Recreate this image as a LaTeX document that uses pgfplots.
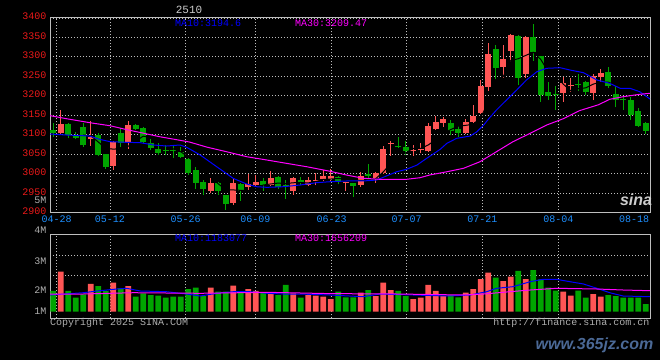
\documentclass[border=0pt]{standalone}
\usepackage{fontspec}
\setmainfont{Liberation Mono}
\newfontfamily\wmfont{Liberation Sans}
\usepackage{pgfplots}
\pgfplotsset{compat=1.18}
\usepackage{pgfplotstable}
\definecolor{cred}{RGB}{255,85,85}
\definecolor{cgreen}{RGB}{0,165,0}
\definecolor{grd}{RGB}{190,190,190}
\definecolor{lbl}{RGB}{235,25,25}
\definecolor{dateblue}{RGB}{30,144,255}
\definecolor{txtgray}{RGB}{175,175,175}
\definecolor{ma10}{RGB}{0,0,255}
\definecolor{ma30}{RGB}{255,0,255}
\definecolor{wmblue}{RGB}{75,105,150}
\newcommand\fsz{\fontsize{10bp}{12bp}\selectfont}

\pgfplotstableread{
x o h l c
1 3103.5 3163.5 3099 3127.5
5 3088 3135 3072 3094
8 3020 3084.5 3010 3082
10 3082 3134 3063 3125
21 2955 2988 2951 2977
24 2925 2986 2919 2975
26 2966 2998 2958 2973
27 2971 2996 2967 2979
29 2971 3007 2969 2989
32 2956 2992 2945 2989
34 2971 2992 2967 2983
35 2981 3001 2970 2983
36 2985 3009 2980 2995
37 2985 3011 2980 2994
39 2975 2979 2956 2976
41 2971 3005 2966 2993
43 2988 3003 2977 3002
44 3001 3071 2999 3062
45 3077 3085 3046 3078
48 3058 3074 3046 3060
49 3060 3078 3052 3061
50 3057 3130 3055 3122
51 3114 3148 3113 3133
52 3131 3145 3121 3140
55 3104 3140 3102 3133
56 3133 3176 3131 3148
57 3157 3241 3153 3225
58 3222 3337 3213 3307
60 3275 3331 3247 3294
61 3316 3359 3288 3356
63 3256 3354 3247 3350
68 3208 3249 3185 3233
69 3224 3245 3210 3226
72 3208 3256 3189 3251
73 3249 3268 3236 3259
}\redtab

\pgfplotstableread{
x o h l c
0 3112 3129 3094 3103.5
2 3127.5 3131 3091 3099
3 3099 3108 3088 3092.5
4 3119 3131 3069 3073.5
6 3099 3104 3045 3048
7 3050 3051 3013 3017
9 3105 3116 3068 3079
11 3126 3128 3113 3115
12 3117 3120 3078 3080
13 3078 3088 3060 3067
14 3063 3078 3048 3054
15 3060 3073 3048 3058
16 3061 3073 3041 3059
17 3056 3069 3041 3043
18 3037 3039 2996 3001
19 3009 3016 2960 2976
20 2979 2983 2945 2960
22 2977 2978 2945 2956
23 2945 2946 2907 2922
25 2973 2975 2930 2955
28 2981 2988 2955 2971
30 2992 2993 2960 2966
31 2969 2984 2935 2967
33 2983 2992 2970 2975
38 2992 2995 2972 2982
40 2975 2977 2940 2969
42 2998 3025 2985 2995
46 3070 3095 3066 3068
47 3069 3084 3048 3057
53 3131 3138 3099 3110
54 3114 3123 3095 3104
59 3320 3331 3242 3272
62 3354 3356 3228 3247
64 3350 3385 3290 3313
65 3302 3303 3185 3202
66 3209 3235 3189 3200
67 3204 3225 3163 3203
70 3231 3256 3212 3229
71 3236 3238 3202 3211
74 3262 3275 3219 3226
75 3204 3226 3170 3189
76 3190 3200 3163 3188
77 3189 3198 3138 3151
78 3161 3168 3120 3122
79 3131 3132 3103 3110
}\greentab

\pgfplotstableread{
x v
1 3.138
5 2.169
8 2.271
10 2.011
21 1.877
24 2.034
26 1.774
27 1.617
29 1.380
32 1.435
34 1.301
35 1.246
36 1.167
37 0.986
41 1.482
43 1.222
44 2.271
45 1.695
48 0.986
49 1.088
50 2.090
51 1.617
52 1.222
55 1.482
56 1.774
57 2.563
58 3.060
60 2.405
61 2.744
63 2.563
68 1.561
69 1.246
72 1.380
73 1.167
}\volred

\pgfplotstableread{
x v
0 1.617
2 1.617
3 1.088
4 1.356
6 2.011
7 1.617
9 1.829
11 1.167
12 1.435
13 1.301
14 1.246
15 1.088
16 1.167
17 1.167
18 1.774
19 1.877
20 1.222
22 1.561
23 1.561
25 1.561
28 1.482
30 1.301
31 2.090
33 1.088
38 1.561
39 1.120
40 1.120
42 1.695
46 1.617
47 1.222
53 1.301
54 1.120
59 2.665
62 3.194
64 3.272
65 2.539
66 1.877
67 1.640
70 1.640
71 1.088
74 1.301
75 1.222
76 1.088
77 1.088
78 1.088
79 0.591
}\volgreen

\pgfplotsset{
  chartbase/.style={
    scale only axis, width=600bp,
    xmin=-0.427, xmax=79.573,
    axis line style={draw=grd, line width=1bp},
    tick style={draw=none},
    major tick length=0pt,
    grid=major,
    major grid style={draw=grd, line width=0.8bp, dash pattern=on 1bp off 2bp},
    xtick={0.47,7.57,17.67,26.95,37.13,47.13,57.21,67.35},
  },
  wick/.style={draw=none, mark=none, forget plot,
    error bars/.cd, y dir=plus, y explicit, error mark=none,
    error bar style={draw=#1, line width=1bp}},
  body/.style={draw=none, mark=none, forget plot,
    error bars/.cd, y dir=plus, y explicit, error mark=none,
    error bar style={draw=#1, line width=5.6bp}},
}

\begin{document}
\begin{tikzpicture}[x=1bp,y=1bp]
\path[use as bounding box, fill=black] (0,0) rectangle (660,360);

% ---------- price panel ----------
\begin{axis}[
  chartbase,
  at={(50bp,147.5bp)}, anchor=south west,
  height=194.5bp,
  ymin=2900, ymax=3400,
  xticklabels={04-28,05-12,05-26,06-09,06-23,07-07,07-21,08-04},
  extra x ticks={77.44}, extra x tick labels={08-18},
  extra x tick style={grid=none},
  ytick={2900,2950,3000,3050,3100,3150,3200,3250,3300,3350,3400},
  yticklabels={2900,2950,3000,3050,3100,3150,3200,3250,3300,3350,3400},
  xticklabel style={font=\fsz, text=dateblue},
  yticklabel style={font=\fsz, text=lbl, inner ysep=0pt, inner xsep=3.3bp, yshift=1.3bp},
]
\addplot[wick=cred] table[x=x, y=l, y error plus expr=\thisrow{h}-\thisrow{l}] {\redtab};
\addplot[body=cred] table[x=x, y=o, y error plus expr={max(\thisrow{c}-\thisrow{o},2.6)}] {\redtab};
\addplot[wick=cgreen] table[x=x, y=l, y error plus expr=\thisrow{h}-\thisrow{l}] {\greentab};
\addplot[body=cgreen] table[x=x, y=c, y error plus expr={max(\thisrow{o}-\thisrow{c},2.6)}] {\greentab};

% MA5 (black)
\addplot[black, line width=1bp, mark=none] coordinates {
(4,3099.2)(5,3097.3)(6,3081.4)(7,3065)(8,3062.9)(9,3064)(10,3070.2)(11,3083.6)(12,3096.2)(13,3093.2)(14,3088.2)(15,3074.8)(16,3063.6)(17,3056.2)(18,3043)(19,3027.4)(20,3007.8)(21,2991.4)(22,2974)(23,2958.2)(24,2958)(25,2957)(26,2956.2)(27,2960.8)(28,2970.6)(29,2973.4)(30,2975.6)(31,2974.4)(32,2976.4)(33,2977.2)(34,2976)(35,2979.4)(36,2985)(37,2986)(38,2987.4)(39,2986)(40,2983.2)(41,2982.8)(42,2983)(43,2987)(44,3004.2)(45,3026)(46,3041)(47,3053.4)(48,3065)(49,3064.8)(50,3073.6)(51,3086.6)(52,3103.2)(53,3113.2)(54,3121.8)(55,3124)(56,3127)(57,3144)(58,3183.4)(59,3217)(60,3249.2)(61,3290.8)(62,3295.2)(63,3303.8)(64,3312)(65,3293.6)(66,3262.4)(67,3253.6)(68,3230.2)(69,3212.8)(70,3218.2)(71,3220.4)(72,3230)(73,3235.2)(74,3235.2)(75,3227.2)(76,3222.6)(77,3202.6)(78,3175.2)(79,3152)};

% MA10 (blue)
\addplot[ma10, line width=1bp, mark=none] coordinates {
(-0.43,3101.8)(1.8,3099.2)(4.9,3096.6)(6.2,3088)(7.6,3082)(9.8,3080.4)(11.6,3079.4)(13.4,3073.5)(15.1,3070.9)(16.9,3073.5)(17.8,3067.6)(19.6,3047.8)(21.8,3017.7)(24.0,2987.8)(25.8,2973.2)(27.1,2966.3)(28.5,2964.7)(30.7,2966.3)(32.9,2970.6)(35.1,2976.6)(36.9,2979.1)(39.1,2981)(41.3,2981)(43.1,2983.5)(44.2,2992)(45.8,3004.8)(47.1,3011)(48.5,3022)(49.8,3039.3)(51.6,3062.4)(52.5,3078)(53.8,3090.7)(55.6,3096.6)(56.5,3107.7)(57.4,3124.9)(58.2,3144)(59.1,3163.5)(60.0,3180.7)(61.8,3214.9)(63.1,3240.6)(64.5,3262)(65.8,3270.7)(67.6,3272.2)(68.9,3266.3)(70.7,3259.4)(72.5,3240.6)(74.2,3232)(75.6,3219.3)(76.9,3219.3)(78.2,3210.5)(79.57,3191.8)};

% MA30 (magenta)
\addplot[ma30, line width=1bp, mark=none] coordinates {
(-0.43,3149)(1.8,3141)(4.9,3130.8)(7.6,3123)(9.8,3113)(12.0,3104)(14.2,3094.8)(16.5,3087)(18.2,3081)(20.5,3068)(23.1,3056.3)(25.8,3043.4)(28.5,3034.9)(31.1,3026.4)(33.8,3017.7)(36.9,3006)(39.1,2996.4)(41.3,2988)(43.6,2985.3)(47.1,2985.3)(48.9,2989.4)(50.2,2996.4)(52.5,3004.8)(54.7,3013.6)(56.9,3030.5)(59.1,3056.3)(61.3,3082)(63.6,3103.6)(65.8,3124.9)(68.0,3141)(70.2,3162)(72.7,3177)(74.2,3191)(76.0,3197.7)(78.2,3203.8)(79.57,3206.4)};
\end{axis}

% ---------- volume panel ----------
\begin{axis}[
  chartbase,
  at={(50bp,42bp)}, anchor=south west,
  height=84bp,
  ymin=-0.5126, ymax=6.1113,
  xticklabels={},
  ytick={2.878,4.455}, yticklabels={},
]
\addplot[ybar, bar width=5.6bp, bar shift=0pt, fill=cred, draw=none] table[x=x, y=v] {\volred};
\addplot[ybar, bar width=5.6bp, bar shift=0pt, fill=cgreen, draw=none] table[x=x, y=v] {\volgreen};
\addplot[ma10, line width=1bp, mark=none] coordinates {
(-0.43,1.301)(4.0,1.482)(6.2,1.640)(8.5,1.774)(9.8,1.829)(11.6,1.617)(15.1,1.561)(17.8,1.380)(19.6,1.222)(21.8,1.435)(24.0,1.561)(26.2,1.561)(28.5,1.435)(30.7,1.380)(32.9,1.380)(36.9,1.301)(41.3,1.167)(43.6,1.380)(48.0,1.301)(52.5,1.222)(55.6,1.301)(57.8,1.561)(59.1,1.829)(61.3,1.956)(63.6,2.350)(65.3,2.539)(67.1,2.539)(68.9,2.350)(70.7,2.169)(72.5,1.829)(74.2,1.482)(76.0,1.222)(79.57,1.167)};
\addplot[ma30, line width=1bp, mark=none] coordinates {
(-0.43,1.380)(4.0,1.380)(10.7,1.482)(19.6,1.435)(28.5,1.514)(36.9,1.410)(45.8,1.380)(54.7,1.301)(57.4,1.380)(60.9,1.561)(63.6,1.695)(67.1,1.829)(72.5,1.774)(76.0,1.695)(79.57,1.640)};
\end{axis}

% ---------- texts ----------
\node[text={rgb,255:red,205;green,205;blue,205}, font=\fontsize{11bp}{13bp}\selectfont] at (189,349.7) {2510};
\node[anchor=west, inner sep=0, text=ma10, font=\fsz] at (175,336.5) {MA10:3194.6};
\node[anchor=west, inner sep=0, text=ma30, font=\fsz] at (295,336.5) {MA30:3209.47};
\node[anchor=east, inner sep=0, text=txtgray, font=\fsz] at (46.7,159.3) {5M};

\node[anchor=west, inner sep=0, text=ma10, font=\fsz] at (175,121.5) {MA10:1183077};
\node[anchor=west, inner sep=0, text=ma30, font=\fsz] at (295,121.5) {MA30:1656209};
\node[anchor=east, inner sep=0, text=txtgray, font=\fsz] at (46.7,129.7) {4M};
\node[anchor=east, inner sep=0, text=txtgray, font=\fsz] at (46.7,99.2) {3M};
\node[anchor=east, inner sep=0, text=txtgray, font=\fsz] at (46.7,69.5) {2M};
\node[anchor=east, inner sep=0, text=txtgray, font=\fsz] at (46.7,49.2) {1M};

\node[anchor=west, inner sep=0, text=txtgray, font=\fsz] at (50,37) {Copyright 2025 SINA.COM};
\node[anchor=east, inner sep=0, text=txtgray, font=\fsz] at (649.5,37) {http://finance.sina.com.cn};

\node[text={rgb,255:red,205;green,205;blue,205}, font=\wmfont\bfseries\itshape\fontsize{16bp}{18bp}\selectfont] at (636,160) {sina};
\node[text=wmblue, font=\wmfont\bfseries\itshape\fontsize{16bp}{18bp}\selectfont] at (594.5,15) {www.365jz.com};
\end{tikzpicture}
\end{document}
